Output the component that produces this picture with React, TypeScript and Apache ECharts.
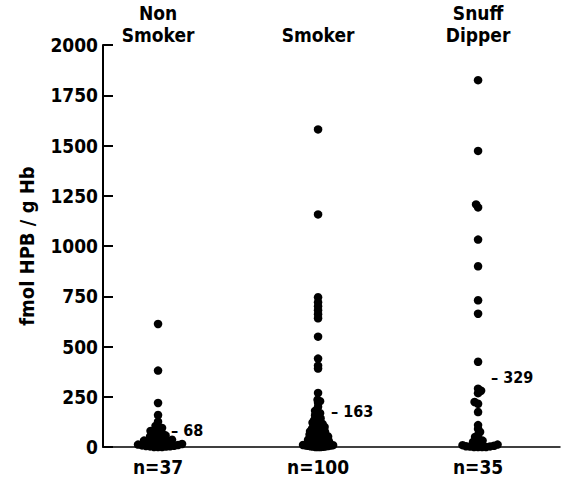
import React, { useEffect, useRef } from "react";
import * as echarts from "echarts";

const groups = ["Non\nSmoker", "Smoker", "Snuff\nDipper"];
const groupCounts = ["n=37", "n=100", "n=35"];
const meanValues = [68, 163, 329];

const nonSmoker = [612, 380, 219, 159, 126, 105, 95, 88, 80, 72, 68, 62, 58, 52, 48, 45, 40, 36, 32, 30, 28, 25, 22, 20, 18, 15, 12, 10, 8, 6, 5, 4, 3, 2, 0, 0, 0];
const smoker = [1580, 1157, 745, 720, 700, 680, 660, 640, 549, 440, 405, 390, 269, 235, 228, 220, 200, 180,
  0, 0, 0, 1, 2, 3, 4, 5, 6, 7, 8, 9, 10, 12, 14, 15, 17, 19,
  20, 21, 23, 24, 26, 27, 29, 30, 32, 33, 35, 36, 38, 39,
  40, 42, 43, 45, 47, 48, 50, 52, 53, 55, 57, 58,
  60, 62, 64, 66, 68, 70, 72, 74, 76, 78,
  80, 82, 84, 87, 89, 91, 93, 96, 98,
  100, 103, 106, 109, 112, 115, 118,
  121, 125, 129, 133, 137,
  142, 147, 152, 157,
  162, 168, 175];
const snuffDipper = [1825, 1473, 1207, 1192, 1032, 899, 730, 663, 424, 290, 280, 268, 224, 215, 174, 109,
  90, 75, 60, 50, 40, 32, 25, 20, 15, 12, 9, 6, 4, 3, 2, 0, 0, 0, 0];

const groupValues = [nonSmoker, smoker, snuffDipper];
const swarmSpacing = [4.0, 2.5, 3.6];

const W = 571;
const H = 479;
const GRID = { left: 103, right: 11, top: 45, bottom: 32 };
const X_MIN = 0.656;
const X_MAX = 3.512;
const Y_MAX = 2000;

const FONT = "'Liberation Sans Narrow', 'DejaVu Sans Condensed', 'Roboto Condensed', 'Liberation Sans', sans-serif";

function swarm(values: number[], center: number, minDist: number): number[][] {
  const pxPerY = (H - GRID.top - GRID.bottom) / Y_MAX;
  const pxPerX = (W - GRID.left - GRID.right) / (X_MAX - X_MIN);
  const sorted = [...values].sort((a, b) => a - b);
  const placed: { x: number; y: number }[] = [];
  const out: number[][] = [];
  const step = 0.5;
  let flip = 1;
  for (const v of sorted) {
    const y = v * pxPerY;
    let chosen = 0;
    for (let k = 0; k < 400; k++) {
      const mag = k * step;
      const cands = k === 0 ? [0] : [flip * mag, -flip * mag];
      let found: number | null = null;
      for (const c of cands) {
        let ok = true;
        for (const p of placed) {
          const dx = p.x - c;
          const dy = p.y - y;
          if (dx * dx + dy * dy < minDist * minDist) { ok = false; break; }
        }
        if (ok) { found = c; break; }
      }
      if (found !== null) { chosen = found; break; }
    }
    if (chosen !== 0) flip = -flip;
    placed.push({ x: chosen, y });
    out.push([center + chosen / pxPerX, v]);
  }
  return out;
}

const labelBase = { fontFamily: FONT, fontWeight: "bold", color: "#000", opacity: 1 };

export default function App() {
  const ref = useRef<HTMLDivElement>(null);
  useEffect(() => {
    if (!ref.current) return;
    const chart = echarts.init(ref.current, undefined, { renderer: "svg" });
    const dots: number[][] = [];
    groupValues.forEach((vals, i) => {
      dots.push(...swarm(vals, i + 1, swarmSpacing[i]));
    });
    chart.setOption({
      animation: false,
      backgroundColor: "#ffffff",
      grid: { ...GRID },
      xAxis: {
        type: "value",
        min: X_MIN,
        max: X_MAX,
        axisLine: { show: true, onZero: true, lineStyle: { color: "#000", width: 1.5 } },
        axisTick: { show: false },
        axisLabel: { show: false },
        splitLine: { show: false },
      },
      yAxis: {
        type: "value",
        min: 0,
        max: Y_MAX,
        interval: 250,
        name: "fmol HPB / g Hb",
        nameLocation: "middle",
        nameGap: 66,
        nameTextStyle: { fontFamily: FONT, fontWeight: "bold", fontSize: 20, color: "#000" },
        axisLine: { show: true, lineStyle: { color: "#000", width: 2 } },
        axisTick: { show: true, inside: true, length: 10, lineStyle: { color: "#000", width: 2 } },
        axisLabel: {
          fontFamily: FONT, fontWeight: "bold", fontSize: 19, color: "#000", margin: 5,
          formatter: (v: number) => String(v),
        },
        splitLine: { show: false },
      },
      series: [
        {
          type: "scatter",
          name: "dots",
          data: dots,
          symbol: "circle",
          symbolSize: 8.5,
          itemStyle: { color: "#000", opacity: 1 },
          clip: false,
        },
        {
          type: "scatter",
          name: "headers",
          data: groups.map((g, i) => ({ value: [i + 1, Y_MAX], name: g })),
          symbolSize: 0,
          clip: false,
          itemStyle: { color: "#000", opacity: 1 },
          label: {
            show: true,
            position: "top",
            distance: 0,
            offset: [0, 1],
            formatter: (p: any) => p.name,
            ...labelBase,
            fontSize: 19,
            lineHeight: 22,
            align: "center",
          },
        },
        {
          type: "scatter",
          name: "counts",
          data: groupCounts.map((g, i) => ({ value: [i + 1, 0], name: g })),
          symbolSize: 0,
          clip: false,
          itemStyle: { color: "#000", opacity: 1 },
          label: {
            show: true,
            position: "bottom",
            distance: 10,
            formatter: (p: any) => p.name,
            ...labelBase,
            fontSize: 19,
          },
        },
        {
          type: "scatter",
          name: "means",
          data: meanValues.map((m, i) => ({ value: [i + 1, m], name: String(m) })),
          symbolSize: 0,
          clip: false,
          itemStyle: { color: "#000", opacity: 1 },
          label: {
            show: true,
            position: "right",
            distance: 13,
            offset: [0, -3],
            formatter: (p: any) => "\u2013 " + p.name,
            ...labelBase,
            fontSize: 16,
          },
        },
      ],
    });
    return () => chart.dispose();
  }, []);
  return <div ref={ref} style={{ position: "fixed", left: 0, top: 0, width: W, height: H }} />;
}
